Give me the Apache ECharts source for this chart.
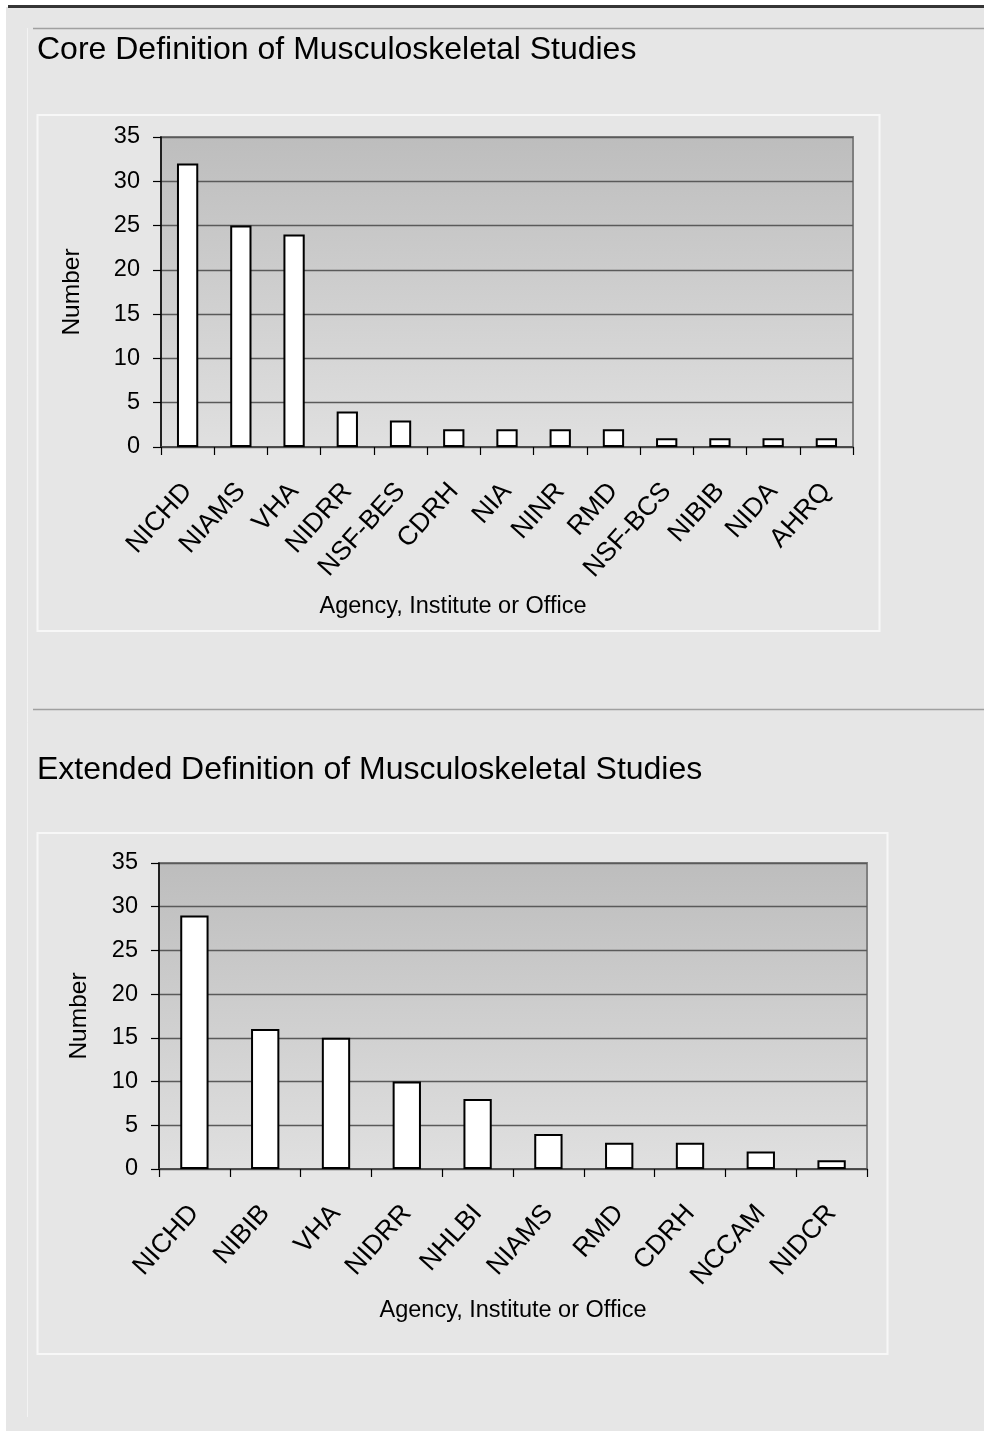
<!DOCTYPE html>
<html>
<head>
<meta charset="utf-8">
<script src="https://cdn.jsdelivr.net/npm/echarts@6/dist/echarts.min.js"></script>
<style>
  html, body { margin: 0; padding: 0; background: #ffffff; }
  #panel { position: absolute; left: 6px; top: 7px; width: 978px; height: 1424px; background: #e6e6e6; }
  #band { position: absolute; left: 8px; top: 5px; width: 976px; height: 3px; background: #353535; }
  #chart { position: absolute; left: 0; top: 0; width: 984px; height: 1431px; }
</style>
</head>
<body>
<div id="panel"></div>
<div id="band"></div>
<div id="chart"></div>
<script>
// ---- Data ----
const coreCategories = ['NICHD', 'NIAMS', 'VHA', 'NIDRR', 'NSF-BES', 'CDRH', 'NIA', 'NINR', 'RMD', 'NSF-BCS', 'NIBIB', 'NIDA', 'AHRQ'];
const coreValues = [32, 25, 24, 4, 3, 2, 2, 2, 2, 1, 1, 1, 1];
const extCategories = ['NICHD', 'NIBIB', 'VHA', 'NIDRR', 'NHLBI', 'NIAMS', 'RMD', 'CDRH', 'NCCAM', 'NIDCR'];
const extValues = [29, 16, 15, 10, 8, 4, 3, 3, 2, 1];
const yTicks = [0, 5, 10, 15, 20, 25, 30, 35];
const titleCore = 'Core Definition of Musculoskeletal Studies';
const titleExt = 'Extended Definition of Musculoskeletal Studies';
const xAxisName = 'Agency, Institute or Office';
const yAxisName = 'Number';

const FONT = '"Liberation Sans", Arial, sans-serif';
const LBL = 23.5;

const chart = echarts.init(document.getElementById('chart'), null, { renderer: 'canvas' });

function plotBg() {
  return {
    type: 'linear', x: 0, y: 0, x2: 0, y2: 1,
    colorStops: [{ offset: 0, color: '#bdbdbd' }, { offset: 1, color: '#e0e0e0' }]
  };
}

function xAxisCfg(idx, cats) {
  return {
    type: 'category', gridIndex: idx, data: cats,
    axisLine: { lineStyle: { color: '#404040', width: 1.5 } },
    axisTick: { show: true, length: 8, lineStyle: { color: '#000', width: 1.2 } },
    axisLabel: { rotate: 48, margin: 40, fontSize: 26.5, fontFamily: FONT, color: '#000', interval: 0 },
    splitLine: { show: false }
  };
}
function yAxisCfg(idx) {
  return {
    type: 'value', gridIndex: idx, min: yTicks[0], max: yTicks[yTicks.length - 1], interval: 5,
    axisLine: { show: true, lineStyle: { color: '#000', width: 1.5 } },
    axisTick: { show: true, length: 8, lineStyle: { color: '#000', width: 1.2 } },
    axisLabel: { margin: 21, fontSize: LBL, fontFamily: FONT, color: '#000' },
    splitLine: { show: true, lineStyle: { color: '#5a5a5a', width: 1.3 } }
  };
}

const textStyle = (size) => ({ fontSize: size, fontFamily: FONT, fill: '#000' });

chart.setOption({
  animation: false,
  backgroundColor: 'transparent',
  grid: [
    { left: 161, top: 137, width: 692, height: 310, show: true, backgroundColor: plotBg(), borderColor: '#808080', borderWidth: 2 },
    { left: 159, top: 863, width: 708, height: 306, show: true, backgroundColor: plotBg(), borderColor: '#808080', borderWidth: 2 }
  ],
  xAxis: [xAxisCfg(0, coreCategories), xAxisCfg(1, extCategories)],
  yAxis: [yAxisCfg(0), yAxisCfg(1)],
  series: [
    { type: 'bar', xAxisIndex: 0, yAxisIndex: 0, data: coreValues, barWidth: '40%',
      itemStyle: { color: '#ffffff', borderColor: '#000', borderWidth: 2 } },
    { type: 'bar', xAxisIndex: 1, yAxisIndex: 1, data: extValues, barWidth: '40%',
      itemStyle: { color: '#ffffff', borderColor: '#000', borderWidth: 2 } }
  ],
  graphic: [
    // divider lines
    { type: 'line', shape: { x1: 33, y1: 28.5, x2: 984, y2: 28.5 }, style: { stroke: '#a0a0a0', lineWidth: 1.5 } },
    { type: 'line', shape: { x1: 33, y1: 709.5, x2: 984, y2: 709.5 }, style: { stroke: '#a0a0a0', lineWidth: 1.5 } },
    { type: 'line', shape: { x1: 27.5, y1: 28, x2: 27.5, y2: 1417 }, style: { stroke: '#f3f3f3', lineWidth: 1 } },
    // chart boxes
    { type: 'rect', shape: { x: 37.5, y: 115, width: 842, height: 516 }, style: { fill: null, stroke: '#f7f7f7', lineWidth: 2 } },
    { type: 'rect', shape: { x: 37.5, y: 833, width: 850, height: 521 }, style: { fill: null, stroke: '#f7f7f7', lineWidth: 2 } },
    // titles
    { type: 'text', x: 37, y: 50, style: Object.assign(textStyle(32), { text: titleCore, verticalAlign: 'middle', align: 'left' }) },
    { type: 'text', x: 37, y: 770, style: Object.assign(textStyle(32), { text: titleExt, verticalAlign: 'middle', align: 'left' }) },
    // y axis names
    { type: 'text', x: 72, y: 292, rotation: Math.PI / 2, style: Object.assign(textStyle(24.5), { text: yAxisName, verticalAlign: 'middle', align: 'center' }) },
    { type: 'text', x: 79, y: 1016, rotation: Math.PI / 2, style: Object.assign(textStyle(24.5), { text: yAxisName, verticalAlign: 'middle', align: 'center' }) },
    // x axis names
    { type: 'text', x: 453, y: 607, style: Object.assign(textStyle(LBL), { text: xAxisName, verticalAlign: 'middle', align: 'center' }) },
    { type: 'text', x: 513, y: 1311, style: Object.assign(textStyle(LBL), { text: xAxisName, verticalAlign: 'middle', align: 'center' }) }
  ]
});
</script>
</body>
</html>
